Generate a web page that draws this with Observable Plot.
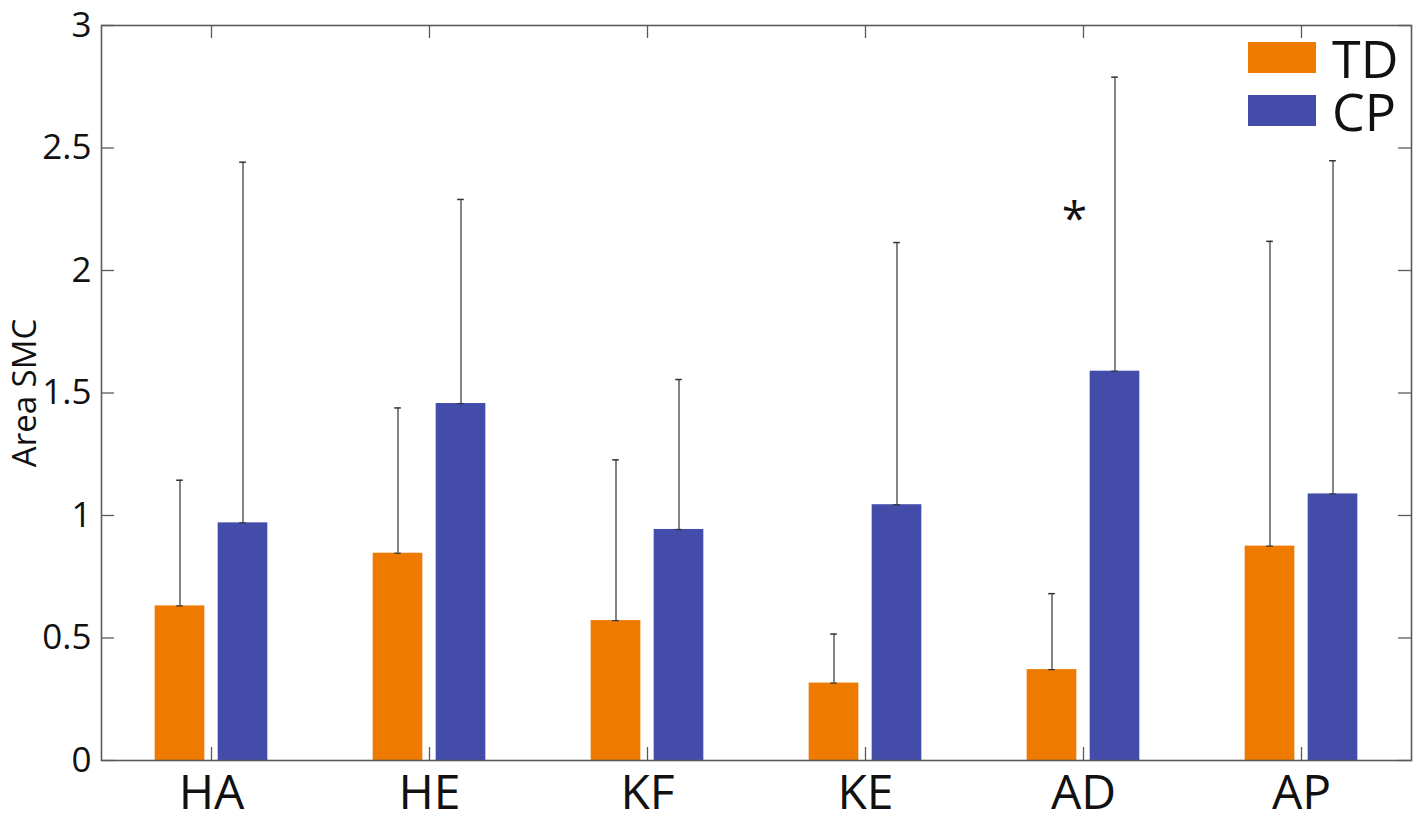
<!DOCTYPE html>
<html>
<head>
<meta charset="utf-8">
<script src="https://cdn.jsdelivr.net/npm/d3@7"></script>
<script src="https://cdn.jsdelivr.net/npm/@observablehq/plot@0.6"></script>
<style>
  html, body { margin: 0; padding: 0; background: #fff; }
  #wrap { position: relative; width: 1417px; height: 825px; font-family: "Open Sans", sans-serif; }
  #legend { position: absolute; left: 1248px; top: 31px; }
  .row { display: flex; align-items: center; height: 53px; }
  .sw { width: 68px; height: 31px; margin-right: 16px; }
  .lab { font-size: 52px; color: #111; line-height: 52px; height: 52px; }
</style>
</head>
<body>
<div id="wrap">
  <div id="chart"></div>
  <div id="legend"></div>
</div>
<script>
const categories = ["HA", "HE", "KF", "KE", "AD", "AP"];
const groups = ["TD", "CP"];
const tdMean = [0.631, 0.846, 0.571, 0.316, 0.371, 0.875];
const tdUpper = [1.144, 1.439, 1.227, 0.516, 0.681, 2.119];
const cpMean = [0.970, 1.457, 0.943, 1.044, 1.589, 1.088];
const cpUpper = [2.442, 2.290, 1.555, 2.114, 2.789, 2.448];
const yTicks = [0, 0.5, 1, 1.5, 2, 2.5, 3];
const yLabel = "Area SMC";
const stars = [{cat: "AD", y: 2.22, text: "*"}];
const colors = {TD: "#EF7A00", CP: "#434CA8"};

const td = categories.map((c, i) => ({cat: c, mean: tdMean[i], upper: tdUpper[i]}));
const cp = categories.map((c, i) => ({cat: c, mean: cpMean[i], upper: cpUpper[i]}));

const W = 1417, H = 825;
const mL = 101, mR = 6, mT = 25, mB = 65;
const plotW = W - mL - mR, plotH = H - mT - mB;
const band = plotW / categories.length;
const barW = 50, off = 31.5, capW = 7, tickLen = 13;
const axisColor = "#5a5a5a";

const barInset = (center) => ({insetLeft: band / 2 + center - barW / 2, insetRight: band / 2 - center - barW / 2});
const capInset = (center) => ({insetLeft: band / 2 + center - capW / 2, insetRight: band / 2 - center - capW / 2});

const chart = Plot.plot({
  width: W, height: H,
  marginLeft: mL, marginRight: mR, marginTop: mT, marginBottom: mB,
  style: {fontFamily: "Open Sans, sans-serif", background: "#fff", color: "#111"},
  x: {type: "band", domain: categories, padding: 0, align: 0.5, label: null},
  y: {domain: [0, 3], label: null},
  marks: [
    Plot.barY(td, {x: "cat", y: "mean", fill: colors.TD, ...barInset(-off)}),
    Plot.barY(cp, {x: "cat", y: "mean", fill: colors.CP, ...barInset(off)}),
    Plot.ruleX(td, {x: "cat", y1: "mean", y2: "upper", dx: -off, stroke: "#333", strokeWidth: 1.2}),
    Plot.ruleX(cp, {x: "cat", y1: "mean", y2: "upper", dx: off, stroke: "#333", strokeWidth: 1.2}),
    Plot.tickY(td, {x: "cat", y: "upper", stroke: "#333", strokeWidth: 1.5, ...capInset(-off)}),
    Plot.tickY(cp, {x: "cat", y: "upper", stroke: "#333", strokeWidth: 1.5, ...capInset(off)}),
    Plot.tickY(td, {x: "cat", y: "mean", stroke: "#333", strokeWidth: 1.2, ...capInset(-off)}),
    Plot.tickY(cp, {x: "cat", y: "mean", stroke: "#333", strokeWidth: 1.2, ...capInset(off)}),
    Plot.ruleY(yTicks, {stroke: axisColor, strokeWidth: 1.3, insetRight: plotW - tickLen}),
    Plot.ruleY(yTicks, {stroke: axisColor, strokeWidth: 1.3, insetLeft: plotW - tickLen}),
    Plot.ruleX(categories, {stroke: axisColor, strokeWidth: 1.3, insetTop: plotH - tickLen}),
    Plot.ruleX(categories, {stroke: axisColor, strokeWidth: 1.3, insetBottom: plotH - tickLen}),
    Plot.frame({stroke: axisColor, strokeWidth: 1.6}),
    Plot.axisY({ticks: yTicks, tickSize: 0, tickPadding: 10, tickFormat: d => String(d), fontSize: 35, label: null}),
    Plot.axisX({tickSize: 0, tickPadding: 14, fontSize: 48, label: null}),
    Plot.text([yLabel], {frameAnchor: "left", textAnchor: "middle", rotate: -90, dx: -76, fontSize: 33, fill: "#111"}),
    Plot.text(stars, {x: "cat", y: "y", text: "text", dx: -9, dy: 4, fontSize: 46, fill: "#111"})
  ]
});
document.getElementById("chart").appendChild(chart);

const legend = document.getElementById("legend");
groups.forEach(g => {
  const row = document.createElement("div");
  row.className = "row";
  row.innerHTML = `<div class="sw" style="background:${colors[g]}"></div><div class="lab">${g}</div>`;
  legend.appendChild(row);
});
</script>
</body>
</html>
